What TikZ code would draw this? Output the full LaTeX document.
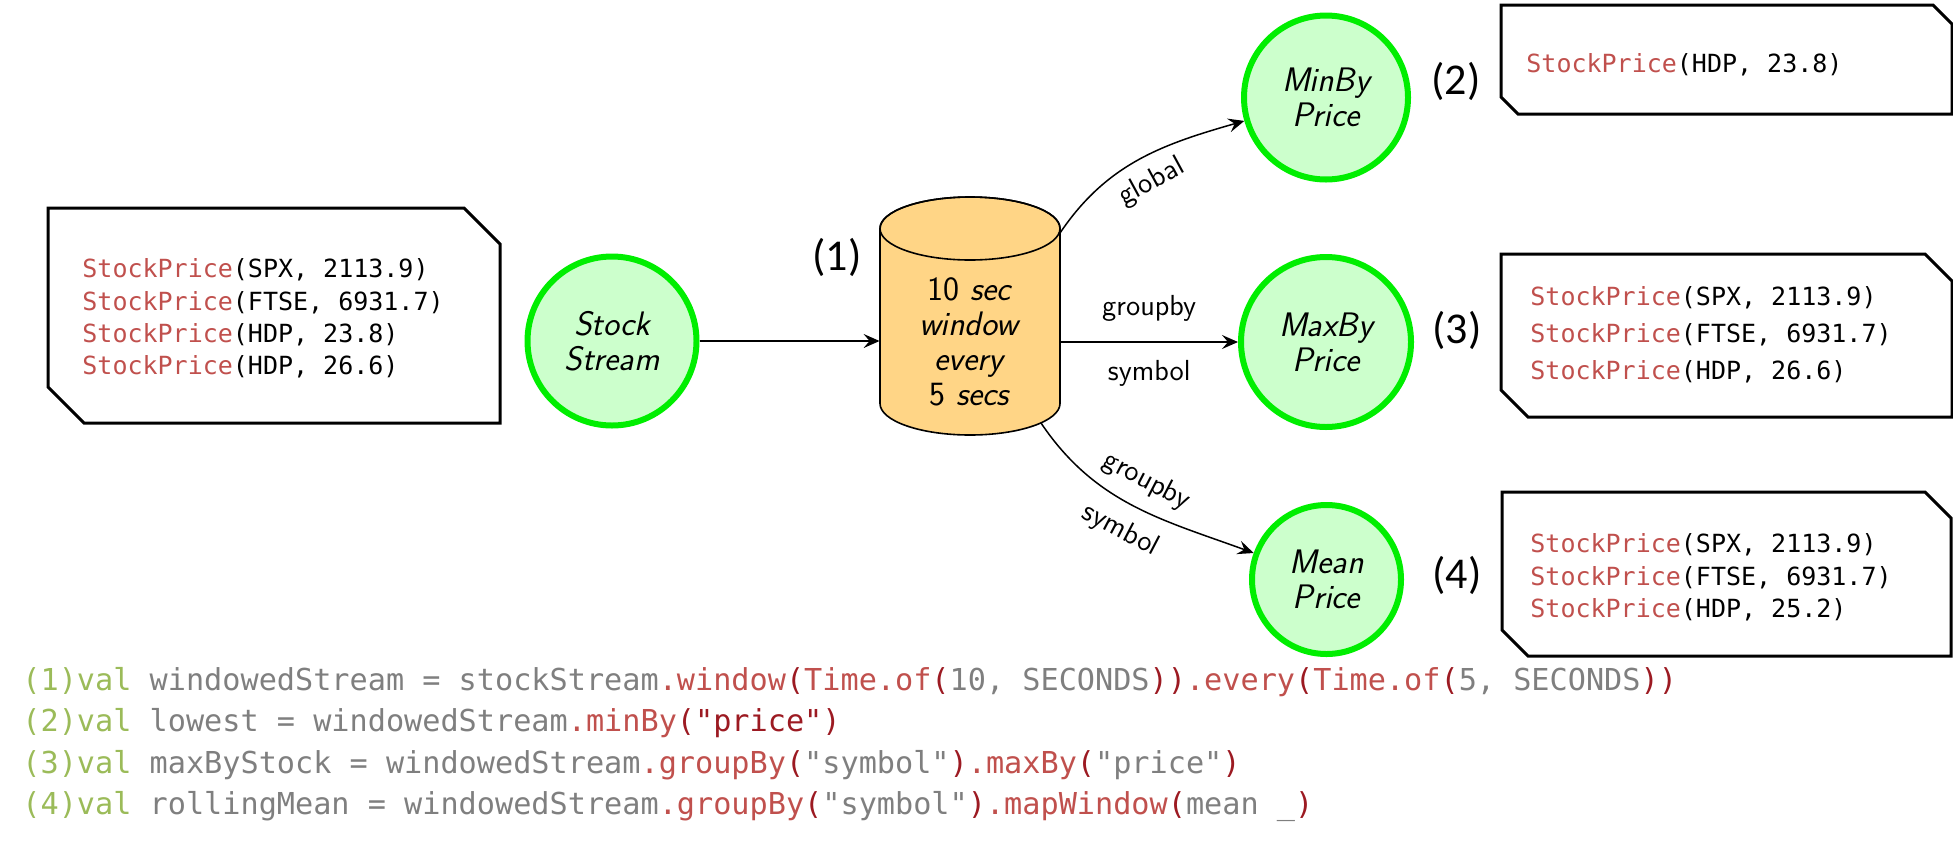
\documentclass[tikz,border=0pt]{standalone}
\usepackage{fontspec}
\setmonofont{DejaVu Sans Mono}
\newfontfamily\numfont{Carlito}
\usetikzlibrary{arrows.meta}
\definecolor{ringgreen}{HTML}{00EE00}
\definecolor{opfill}{HTML}{CCFFCC}
\definecolor{winfill}{HTML}{FFD586}
\definecolor{codered}{HTML}{C0504D}
\definecolor{codedark}{HTML}{9C1A22}
\definecolor{codegreen}{HTML}{9BBB59}
\definecolor{codegrey}{HTML}{7F7F7F}
\newcommand{\StockTuple}[1]{\textcolor{codered}{StockPrice}(#1)}
\newcommand{\kw}[1]{\textcolor{codegreen}{#1}}
\newcommand{\idf}[1]{\textcolor{codegrey}{#1}}
\newcommand{\fn}[1]{\textcolor{codered}{#1}}
\newcommand{\pa}[1]{\textcolor{codedark}{#1}}
\newcommand{\ResultBox}[6]{
  \draw[boxline] ({#1},{#2}) -- ({#3-#5},{#2}) -- ({#3},{#2+#5}) -- ({#3},{#4})
    -- ({#1+#6},{#4}) -- ({#1},{#4-#6}) -- cycle;
}

\begin{document}
\begin{tikzpicture}[x=0.5pt,y=-0.5pt,
  op/.style={circle,draw=ringgreen,fill=opfill,line width=3pt,align=center,
    font=\sffamily\itshape\fontsize{17}{17.5}\selectfont},
  lbl/.style={font=\sffamily\fontsize{14.5}{16}\selectfont,inner sep=2pt},
  num/.style={font=\numfont\fontsize{22}{24}\selectfont,inner sep=0pt},
  listing/.style={font=\ttfamily\fontsize{12.5}{16.15}\selectfont,align=left,
    anchor=west,inner sep=0pt},
  boxline/.style={line width=1.5pt,line join=miter},
  flow/.style={-{Stealth[length=8pt,width=7pt,inset=3pt]},line width=0.75pt}]
  \useasboundingbox (0,0) rectangle (1953,847);
  % incoming tuples
  \ResultBox{48}{208}{500}{423}{36}{36}
  \node[listing] (inlist) at (82,318.5) {\StockTuple{SPX, 2113.9}\\
    \StockTuple{FTSE, 6931.7}\\\StockTuple{HDP, 23.8}\\\StockTuple{HDP, 26.6}};
  \node[op,minimum size=84.5pt] (stock) at (612,341) {Stock\\Stream};
  % window
  \filldraw[fill=winfill,line width=0.8pt] (880,228.5) -- (880,403.5)
    arc[start angle=180,end angle=0,x radius=90,y radius=31.5] -- (1060,228.5)
    arc[start angle=0,end angle=-180,x radius=90,y radius=31.5] -- cycle;
  \draw[line width=0.8pt] (970,228.5) ellipse [x radius=90,y radius=31.5];
  \node[font=\sffamily\fontsize{17}{17.5}\selectfont,align=center,
    minimum width=90pt,inner sep=0pt] (win) at (970,342)
    {10 \textit{sec}\\\textit{window}\\\textit{every}\\5 \textit{secs}};
  \coordinate (wintop) at (1060,233);
  \coordinate (winbot) at (1041,423);
  \node[op,minimum size=82pt] (minby) at (1326,97.5) {MinBy\\Price};
  \node[op,minimum size=85pt] (maxby) at (1326,342) {MaxBy\\Price};
  \node[op,minimum size=74.5pt] (mean) at (1326.5,579.5) {Mean\\Price};
  \draw[flow] (stock) -- (stock -| win.west);
  \draw[flow] (wintop) to[out=56,in=196] node[lbl,sloped,below=4pt] {global} (minby);
  \draw[flow] (win.east |- maxby) -- node[lbl,above=8pt] {groupby}
    node[lbl,below=7pt] {symbol} (maxby);
  \draw[flow] (winbot) to[out=-56,in=160] node[lbl,sloped,above=5pt] {groupby}
    node[lbl,sloped,below=5pt] {symbol} (mean);
  \node[num] (n1) at (837,257) {(1)};
  \node[num] (n2) at (1456,81) {(2)};
  \node[num] (n3) at (1457,330) {(3)};
  \node[num] (n4) at (1457,575) {(4)};
  % results
  \ResultBox{1501}{5}{1952}{114}{19}{17}
  \node[listing] (minlist) at (1526,65) {\StockTuple{HDP, 23.8}};
  \ResultBox{1501}{254}{1952}{417}{27}{27}
  \node[listing,font=\ttfamily\fontsize{12.5}{18.5}\selectfont] (maxlist) at (1530,335)
    {\StockTuple{SPX, 2113.9}\\\StockTuple{FTSE, 6931.7}\\\StockTuple{HDP, 26.6}};
  \ResultBox{1502}{492}{1951}{656}{26}{26}
  \node[listing] (meanlist) at (1530,577.5)
    {\StockTuple{SPX, 2113.9}\\\StockTuple{FTSE, 6931.7}\\\StockTuple{HDP, 25.2}};
  % program
  \node[font=\ttfamily\fontsize{15.1}{20.8}\selectfont,align=left,anchor=west,
    inner sep=0pt] (code) at (22,744.5)
    {\kw{(1)val }\idf{windowedStream = stockStream}\fn{.window}\pa{(}\fn{Time.of}\pa{(}\idf{10, SECONDS}\pa{))}\fn{.every}\pa{(}\fn{Time.of}\pa{(}\idf{5, SECONDS}\pa{))}\\
     \kw{(2)val }\idf{lowest = windowedStream}\fn{.minBy}\pa{("price")}\\
     \kw{(3)val }\idf{maxByStock = windowedStream}\fn{.groupBy}\pa{(}\idf{"symbol"}\pa{)}\fn{.maxBy}\pa{(}\idf{"price"}\pa{)}\\
     \kw{(4)val }\idf{rollingMean = windowedStream}\fn{.groupBy}\pa{(}\idf{"symbol"}\pa{)}\fn{.mapWindow}\pa{(}\idf{mean \_}\pa{)}};
\end{tikzpicture}
\end{document}
